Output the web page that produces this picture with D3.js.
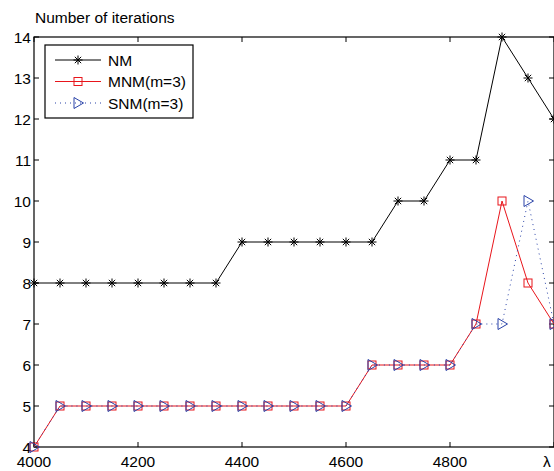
<!DOCTYPE html>
<html>
<head>
<meta charset="utf-8">
<script src="https://cdn.jsdelivr.net/npm/d3@7"></script>
<style>
  body { margin: 0; background: #fff; }
  svg { display: block; font-family: "Liberation Sans", Arial, sans-serif; }
</style>
</head>
<body>
<div id="chart"></div>
<script>
const lambdas = [4000, 4050, 4100, 4150, 4200, 4250, 4300, 4350, 4400, 4450, 4500,
                 4550, 4600, 4650, 4700, 4750, 4800, 4850, 4900, 4950, 5000];
const nm  = [8, 8, 8, 8, 8, 8, 8, 8, 9, 9, 9, 9, 9, 9, 10, 10, 11, 11, 14, 13, 12];
const mnm = [4, 5, 5, 5, 5, 5, 5, 5, 5, 5, 5, 5, 5, 6, 6, 6, 6, 7, 10, 8, 7];
const snm = [4, 5, 5, 5, 5, 5, 5, 5, 5, 5, 5, 5, 5, 6, 6, 6, 6, 7, 7, 10, 7];
const xTicks = [4000, 4200, 4400, 4600, 4800, 5000];
const yTicks = [4, 5, 6, 7, 8, 9, 10, 11, 12, 13, 14];

const width = 554, height = 471;
const margin = { left: 34, right: 0, top: 37, bottom: 24 };
const fontSize = 15.5;

const svg = d3.select('#chart').append('svg')
    .attr('width', width)
    .attr('height', height);

const x = d3.scaleLinear().domain([4000, 5000]).range([margin.left, width - margin.right]);
const y = d3.scaleLinear().domain([4, 14]).range([height - margin.bottom, margin.top]);

const series = [
    { name: 'NM', values: nm, color: '#000', dash: null, marker: 'star' },
    { name: 'MNM(m=3)', values: mnm, color: '#e8151b', dash: null, marker: 'square' },
    { name: 'SNM(m=3)', values: snm, color: '#2a43a8', dash: '1,4', marker: 'tri' }
];

// axes box with inward ticks
const tickLen = 5;
const frame = svg.append('g');
frame.append('rect')
    .attr('x', x(4000)).attr('y', y(14))
    .attr('width', x(5000) - x(4000)).attr('height', y(4) - y(14))
    .attr('fill', 'none').attr('stroke', '#000').attr('stroke-width', 1.2);

xTicks.forEach(t => {
    frame.append('line').attr('x1', x(t)).attr('x2', x(t))
        .attr('y1', y(4)).attr('y2', y(4) - tickLen).attr('stroke', '#000');
    frame.append('line').attr('x1', x(t)).attr('x2', x(t))
        .attr('y1', y(14)).attr('y2', y(14) + tickLen).attr('stroke', '#000');
});
yTicks.forEach(t => {
    frame.append('line').attr('x1', x(4000)).attr('x2', x(4000) + tickLen)
        .attr('y1', y(t)).attr('y2', y(t)).attr('stroke', '#000');
    frame.append('line').attr('x1', x(5000)).attr('x2', x(5000) - tickLen)
        .attr('y1', y(t)).attr('y2', y(t)).attr('stroke', '#000');
});

// tick labels
svg.append('g').selectAll('text')
    .data(xTicks.slice(0, -1))
    .join('text')
    .attr('x', d => x(d)).attr('y', y(4) + 20)
    .attr('text-anchor', 'middle')
    .attr('font-size', fontSize)
    .text(d => d);

svg.append('g').selectAll('text')
    .data(yTicks)
    .join('text')
    .attr('x', x(4000) - 3).attr('y', d => y(d) + 5.5)
    .attr('text-anchor', 'end')
    .attr('font-size', fontSize)
    .text(d => d);

svg.append('text')
    .attr('x', 35).attr('y', 23)
    .attr('font-size', fontSize)
    .text('Number of iterations');

svg.append('text')
    .attr('x', 543).attr('y', y(4) + 20)
    .attr('font-size', fontSize)
    .text('λ');

function drawMarker(g, kind, cx, cy, color) {
    if (kind === 'star') {
        const r = 4.5;
        const path = d3.path();
        for (let i = 0; i < 4; i++) {
            const a = i * Math.PI / 4;
            path.moveTo(cx - r * Math.cos(a), cy - r * Math.sin(a));
            path.lineTo(cx + r * Math.cos(a), cy + r * Math.sin(a));
        }
        g.append('path').attr('d', path.toString())
            .attr('stroke', color).attr('stroke-width', 1).attr('fill', 'none');
    } else if (kind === 'square') {
        g.append('rect').attr('x', cx - 4).attr('y', cy - 4)
            .attr('width', 8).attr('height', 8)
            .attr('fill', 'none').attr('stroke', color).attr('stroke-width', 1);
    } else {
        g.append('path')
            .attr('d', `M${cx - 4},${cy - 5.5}L${cx + 5.5},${cy}L${cx - 4},${cy + 5.5}Z`)
            .attr('fill', 'none').attr('stroke', color).attr('stroke-width', 1);
    }
}

const line = d3.line().x(d => x(d[0])).y(d => y(d[1]));

const plot = svg.append('g');
series.forEach(s => {
    const pts = lambdas.map((l, i) => [l, s.values[i]]);
    plot.append('path')
        .attr('d', line(pts))
        .attr('fill', 'none')
        .attr('stroke', s.color)
        .attr('stroke-width', 1)
        .attr('stroke-dasharray', s.dash);
    const mg = plot.append('g');
    pts.forEach(p => drawMarker(mg, s.marker, x(p[0]), y(p[1]), s.color));
});

// legend
const lg = svg.append('g');
lg.append('rect')
    .attr('x', 45).attr('y', 45).attr('width', 148).attr('height', 73)
    .attr('fill', '#fff').attr('stroke', '#000').attr('stroke-width', 1.2);
series.forEach((s, i) => {
    const ly = 60 + i * 21.5;
    lg.append('line').attr('x1', 55).attr('x2', 101).attr('y1', ly).attr('y2', ly)
        .attr('stroke', s.color).attr('stroke-width', 1).attr('stroke-dasharray', s.dash);
    drawMarker(lg, s.marker, 78, ly, s.color);
    lg.append('text').attr('x', 108).attr('y', ly + 5.5)
        .attr('font-size', fontSize).text(s.name);
});
</script>
</body>
</html>
